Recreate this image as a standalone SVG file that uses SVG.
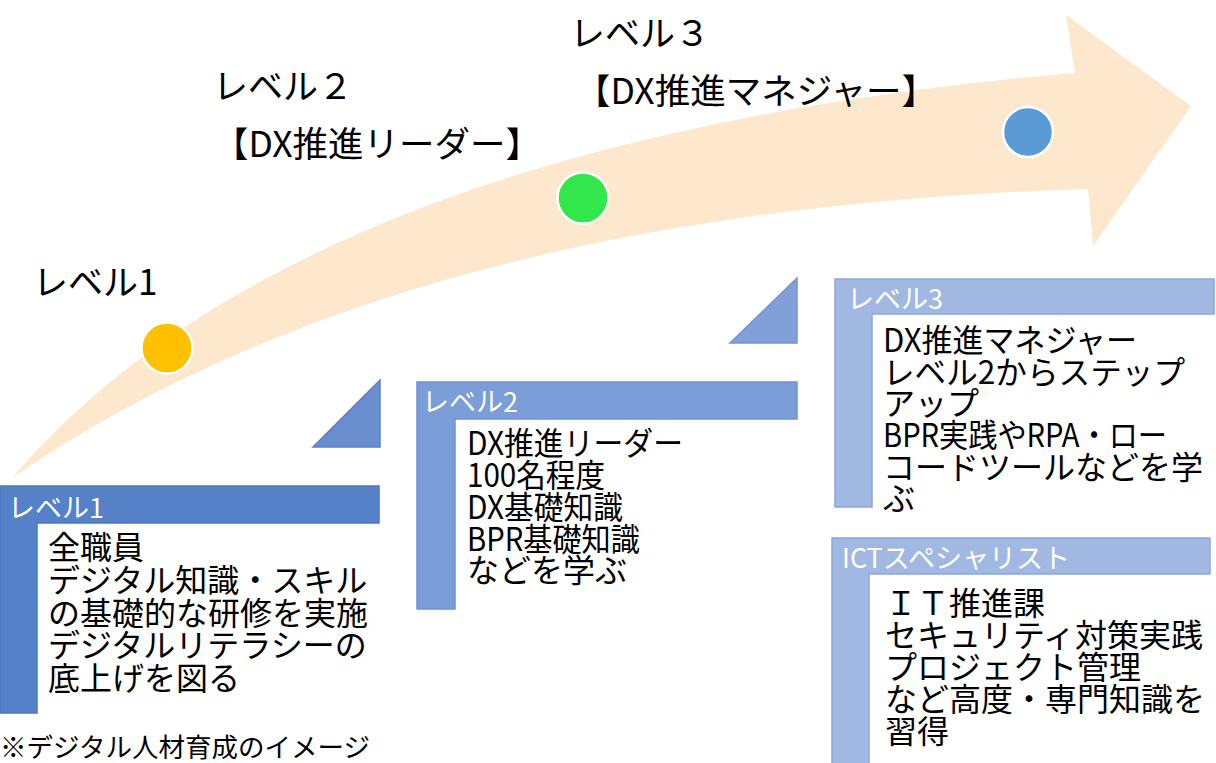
<svg xmlns="http://www.w3.org/2000/svg" width="1216" height="763" viewBox="0 0 1216 763">
<style>
text{font-family:"Noto Sans CJK JP","Noto Sans",sans-serif;}
.big{font-size:35px;fill:#000;}
.body{font-size:32px;fill:#000;}
.ttl{font-size:27px;fill:#fff;}
.dot{stroke:#fff;stroke-width:2.5;}
</style>
<rect width="1216" height="763" fill="#fff"/>
<g id="connectors">
<path id="progress-arrow" d="M12,478 Q300,140 1075,73 L1066,15 L1191,106 L1093,246 L1088,189 Q400,210 12,478 Z" fill="#FDE8CD"/>
</g>
<g id="dot1"><circle class="dot" cx="167" cy="348" r="25.5" fill="#FFC000"/></g>
<g id="dot2"><circle class="dot" cx="583" cy="198" r="25.5" fill="#31E74C"/></g>
<g id="dot3"><circle class="dot" cx="1028" cy="132" r="25" fill="#5B9BD5"/></g>
<g id="label-level1"><text class="big" x="33" y="295">レベル1</text></g>
<g id="label-level2"><text class="big" x="213" y="99">レベル２</text><text class="big" x="213" y="157" textLength="328" lengthAdjust="spacingAndGlyphs">【DX推進リーダー】</text></g>
<g id="label-level3"><text class="big" x="570" y="46">レベル３</text><text class="big" x="575" y="104" textLength="362" lengthAdjust="spacingAndGlyphs">【DX推進マネジャー】</text></g>
<g id="tri1"><path d="M313,447 L380,380 L380,447 Z" fill="#6A8ECE" stroke="#5A82C8" stroke-width="1.5"/></g>
<g id="tri2"><path d="M730,343 L797,278 L797,343 Z" fill="#819FD8" stroke="#7496D4" stroke-width="1.5"/></g>
<g id="box-level1">
<path d="M0.5,486 H379 V523 H37 V713 H0.5 Z" fill="#5581C9" stroke="#4A78C5" stroke-width="1.5"/>
<text class="ttl" x="8" y="518">レベル1</text>
<text class="body" x="48" y="559">全職員</text>
<text class="body" x="48" y="592">デジタル知識・スキル</text>
<text class="body" x="48" y="625">の基礎的な研修を実施</text>
<text class="body" x="48" y="657">デジタルリテラシーの</text>
<text class="body" x="48" y="690">底上げを図る</text>
</g>
<g id="box-level2">
<path d="M417,382 H797 V419 H455 V609 H417 Z" fill="#7B9ED8" stroke="#6E94D4" stroke-width="1.5"/>
<text class="ttl" x="422" y="412">レベル2</text>
<text class="body" x="467" y="455" textLength="216" lengthAdjust="spacingAndGlyphs">DX推進リーダー</text>
<text class="body" x="467" y="487" textLength="138" lengthAdjust="spacingAndGlyphs">100名程度</text>
<text class="body" x="467" y="519" textLength="156" lengthAdjust="spacingAndGlyphs">DX基礎知識</text>
<text class="body" x="467" y="551" textLength="173" lengthAdjust="spacingAndGlyphs">BPR基礎知識</text>
<text class="body" x="467" y="582">などを学ぶ</text>
</g>
<g id="box-level3">
<path d="M835,279 H1214 V314 H872 V507 H835 Z" fill="#A1B9E2" stroke="#8AA8DC" stroke-width="1.5"/>
<text class="ttl" x="847" y="309">レベル3</text>
<text class="body" x="883" y="352" textLength="254" lengthAdjust="spacingAndGlyphs">DX推進マネジャー</text>
<text class="body" x="883" y="384" textLength="302" lengthAdjust="spacingAndGlyphs">レベル2からステップ</text>
<text class="body" x="883" y="415">アップ</text>
<text class="body" x="883" y="447" textLength="284" lengthAdjust="spacingAndGlyphs">BPR実践やRPA・ロー</text>
<text class="body" x="883" y="479">コードツールなどを学</text>
<text class="body" x="883" y="510">ぶ</text>
</g>
<g id="box-ict">
<path d="M832,538 H1210 V574 H869 V770 H832 Z" fill="#A1B9E2" stroke="#8AA8DC" stroke-width="1.5"/>
<text class="ttl" x="842" y="568" font-size="28">ICTスペシャリスト</text>
<text class="body" x="885" y="615">ＩＴ推進課</text>
<text class="body" x="885" y="647">セキュリティ対策実践</text>
<text class="body" x="885" y="679">プロジェクト管理</text>
<text class="body" x="885" y="711">など高度・専門知識を</text>
<text class="body" x="885" y="743">習得</text>
</g>
<g id="footnote"><text x="0" y="757" font-size="26.5" fill="#000">※デジタル人材育成のイメージ</text></g>
</svg>
